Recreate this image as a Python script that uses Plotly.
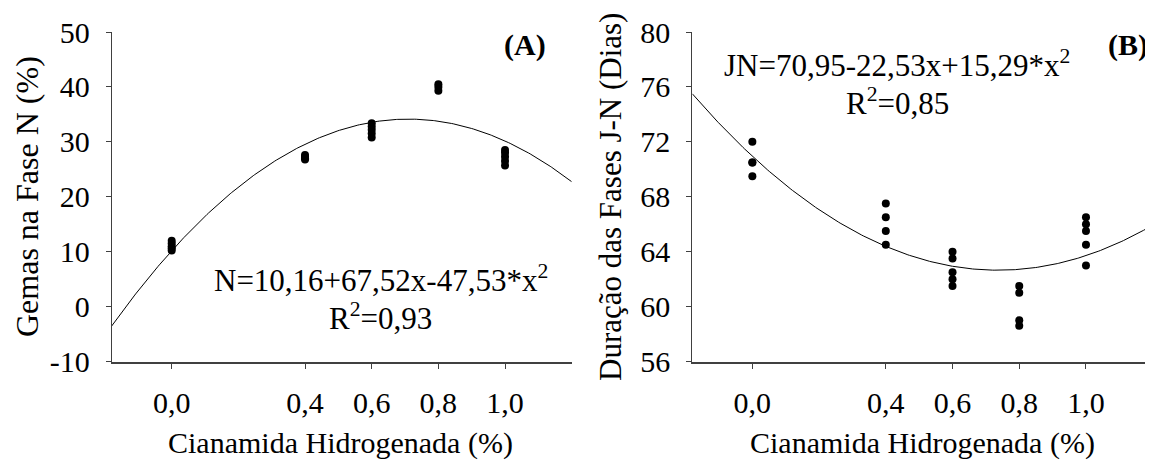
import numpy as np
import plotly.graph_objects as go

# ---- data ----
doses = [0.0, 0.4, 0.6, 0.8, 1.0]
tick_text = ["0,0", "0,4", "0,6", "0,8", "1,0"]

# Panel A: Gemas na Fase N (%)
a_yticks = [-10, 0, 10, 20, 30, 40, 50]
a_yticktext = ["-10", "0", "10", "20", "30", "40", "50"]
a_x = [0.0]*5 + [0.4]*4 + [0.6]*5 + [0.8]*3 + [1.0]*5
a_y = [10.2, 10.6, 11.0, 11.5, 12.0,
       26.8, 27.0, 27.3, 27.6,
       30.8, 31.5, 32.2, 32.8, 33.4,
       39.3, 40.0, 40.5,
       25.7, 26.5, 27.3, 28.0, 28.5]
a_coef = [10.16, 67.52, -47.53]   # N = b0 + b1 x + b2 x^2

# Panel B: Duração das Fases J-N (Dias)
b_yticks = [56, 60, 64, 68, 72, 76, 80]
b_x = [0.0]*4 + [0.4]*4 + [0.6]*5 + [0.8]*4 + [1.0]*5
b_y = [72.0, 70.5, 70.5, 69.5,
       67.5, 66.5, 65.5, 64.5,
       64.0, 63.5, 62.5, 62.0, 61.5,
       61.5, 61.0, 59.0, 58.6,
       66.5, 66.0, 65.5, 64.5, 63.0]
b_coef = [70.95, -22.53, 15.29]

x_range = [-0.18, 1.2]

FONT = "Liberation Serif"
W, H = 1153, 461
OFF = 8  # page body margin offset

def px_x(p):
    return (p - OFF) / W

def px_y(p):
    return 1 - (p - OFF) / H

fig = go.Figure()

xc = np.linspace(x_range[0], x_range[1], 300)
for coef, xs, ys, xa, ya in [(a_coef, a_x, a_y, "x", "y"), (b_coef, b_x, b_y, "x2", "y2")]:
    yc = coef[0] + coef[1]*xc + coef[2]*xc**2
    fig.add_trace(go.Scatter(x=xc, y=yc, mode="lines", line=dict(color="black", width=1),
                             xaxis=xa, yaxis=ya, showlegend=False, hoverinfo="skip"))
    fig.add_trace(go.Scatter(x=xs, y=ys, mode="markers", marker=dict(color="black", size=8),
                             xaxis=xa, yaxis=ya, showlegend=False))

ydom = [px_y(361.5), px_y(32.0)]
axis_common = dict(showgrid=False, zeroline=False, showline=True, linecolor="#404040",
                   ticks="outside", ticklen=5, tickcolor="#404040", automargin=False,
                   tickfont=dict(family=FONT, size=30, color="black"))

xa_common = dict(axis_common, range=x_range, tickvals=doses, ticktext=tick_text,
                 linewidth=2, ticklabelstandoff=8)
ya_common = dict(axis_common, linewidth=1, ticklabelstandoff=10)

fig.update_layout(
    width=W, height=H,
    margin=dict(l=0, r=0, t=0, b=0),
    paper_bgcolor="white", plot_bgcolor="white",
    xaxis=dict(xa_common, domain=[px_x(111.7), px_x(571.7)], anchor="y"),
    yaxis=dict(ya_common, domain=ydom, range=[-10, 50], tickvals=a_yticks,
               ticktext=a_yticktext, anchor="x"),
    xaxis2=dict(xa_common, domain=[px_x(692.3), px_x(1152.7)], anchor="y2"),
    yaxis2=dict(ya_common, domain=ydom, range=[56, 80], tickvals=b_yticks,
                ticktext=[str(v) for v in b_yticks], anchor="x2"),
)

def font(size):
    return dict(family=FONT, size=size, color="black")

anns = [
    dict(text="Cianamida Hidrogenada (%)", x=px_x(340), y=px_y(443), font=font(30)),
    dict(text="Cianamida Hidrogenada (%)", x=px_x(922), y=px_y(443), font=font(30)),
    dict(text="Gemas na Fase N (%)", x=px_x(27), y=px_y(197), textangle=-90, font=font(32)),
    dict(text="Duração das Fases J-N (Dias)", x=px_x(610), y=px_y(197), textangle=-90, font=font(31)),
    dict(text="<b>(A)</b>", x=px_x(525), y=px_y(45), font=font(30)),
    dict(text="<b>(B)</b>", x=px_x(1128), y=px_y(45), font=font(30)),
    dict(text="N=10,16+67,52x-47,53*x<sup>2</sup>", x=px_x(381), y=px_y(278), font=font(31)),
    dict(text="R<sup>2</sup>=0,93", x=px_x(381), y=px_y(316), font=font(31)),
    dict(text="JN=70,95-22,53x+15,29*x<sup>2</sup>", x=px_x(897), y=px_y(64), font=font(31)),
    dict(text="R<sup>2</sup>=0,85", x=px_x(897), y=px_y(102), font=font(31)),
]
for a in anns:
    fig.add_annotation(xref="paper", yref="paper", showarrow=False,
                       xanchor="center", yanchor="middle", **a)

fig.write_html("out.html")
